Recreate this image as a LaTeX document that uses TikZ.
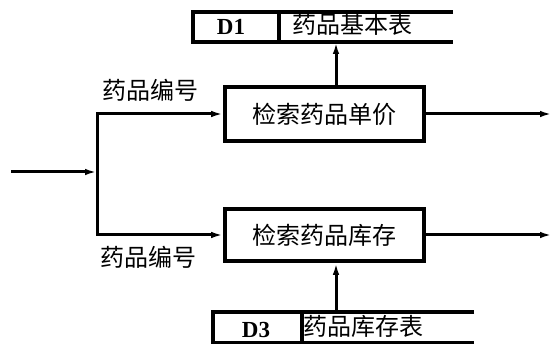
\documentclass[tikz,border=0pt]{standalone}
\usepackage{fontspec}
\newfontfamily\cjk{Noto Sans CJK SC}
\newfontfamily\dfont{Liberation Serif}
\usetikzlibrary{arrows.meta,positioning}
\begin{document}
\begin{tikzpicture}[x=1pt,y=-1pt,
  proc/.style={draw,line width=3.6pt,minimum width=199pt,inner sep=0pt,font=\cjk\fontsize{24}{24}\selectfont},
  lbl/.style={inner sep=0pt,font=\cjk\fontsize{24}{24}\selectfont},
  idl/.style={inner sep=0pt,font=\dfont\bfseries\fontsize{23}{23}\selectfont},
  store/.style={line width=3.6pt},
  flow/.style={line width=3pt,-{Latex[length=12pt,width=6.5pt]}},
  plain/.style={line width=3pt}]
\useasboundingbox (0,0) rectangle (552,344);
\fill[white] (0,0) rectangle (552,344);
% processes
\node[proc,minimum height=54pt] (p1) at (324.5,114) {检索药品单价};
\node[proc,minimum height=52pt] (p2) at (324.5,235) {检索药品库存};
% data store D1
\draw[store] (453,12) -- (193,12) -- (193,42) -- (453,42);
\draw[store] (279,12) -- (279,42);
\node[idl] (d1id) at (231,27) {D1};
\node[lbl] (d1nm) at (352,24) {药品基本表};
\coordinate (d1b) at (336,42);
% data store D3
\draw[store] (474,312) -- (213,312) -- (213,343) -- (474,343);
\draw[store] (302,312) -- (302,343);
\node[idl] (d3id) at (256,330) {D3};
\node[lbl] (d3nm) at (363,326) {药品库存表};
\coordinate (d3t) at (336,312);
% input and branch
\coordinate (in) at (11,172);
\coordinate (br) at (97,172);
\coordinate (brt) at (97,114);
\coordinate (brb) at (97,235);
\draw[flow] (in) -- (br);
\draw[plain,line cap=rect] (brt) -- (brb);
\draw[flow] (brt) -- (p1.west);
\draw[flow] (brb) -- (p2.west);
\node[lbl] (l1) at (150,90) {药品编号};
\node[lbl] (l2) at (148,257) {药品编号};
% outputs
\coordinate (o1) at (552,114);
\coordinate (o2) at (552,235);
\draw[flow] (p1.east) -- (o1);
\draw[flow] (p2.east) -- (o2);
% store connections
\draw[flow] (p1.north -| d1b) -- (d1b);
\draw[flow] (d3t) -- (p2.south -| d3t);
\end{tikzpicture}
\end{document}
